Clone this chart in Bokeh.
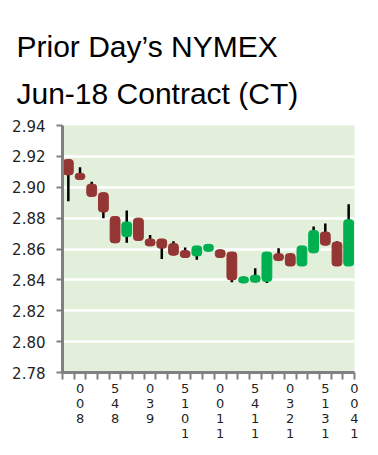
from bokeh.plotting import figure
from bokeh.models import FixedTicker, Title, ColumnDataSource, Range1d
from bokeh.embed import file_html
from bokeh.resources import INLINE

# 15-minute bars, Jun-18 contract
times = ["7:45", "8:00", "8:15", "8:30", "8:45", "9:00", "9:15", "9:30", "9:45",
         "10:00", "10:15", "10:30", "10:45", "11:00", "11:15", "11:30", "11:45",
         "12:00", "12:15", "12:30", "12:45", "13:00", "13:15", "13:30", "13:45"]
opens = [2.918, 2.909, 2.902, 2.8965, 2.881, 2.868, 2.880, 2.8665, 2.8665,
         2.8635, 2.859, 2.8555, 2.8585, 2.8595, 2.858, 2.838, 2.8385, 2.839,
         2.857, 2.857, 2.849, 2.8575, 2.871, 2.8645, 2.849]
highs = [2.918, 2.913, 2.9035, 2.8965, 2.881, 2.885, 2.880, 2.869, 2.8665,
         2.865, 2.861, 2.862, 2.863, 2.8595, 2.858, 2.842, 2.8475, 2.858,
         2.8605, 2.857, 2.862, 2.8745, 2.8765, 2.865, 2.889]
lows = [2.891, 2.905, 2.894, 2.880, 2.864, 2.864, 2.8655, 2.862, 2.8535,
        2.856, 2.8545, 2.853, 2.8585, 2.8545, 2.8385, 2.838, 2.8385, 2.838,
        2.8525, 2.849, 2.849, 2.8575, 2.8625, 2.849, 2.849]
closes = [2.908, 2.905, 2.894, 2.884, 2.864, 2.8775, 2.8655, 2.862, 2.8605,
          2.856, 2.8545, 2.862, 2.863, 2.8545, 2.840, 2.842, 2.843, 2.858,
          2.8525, 2.849, 2.862, 2.872, 2.8625, 2.849, 2.879]
tick_labels = ["8:00", "8:45", "9:30", "10:15", "11:00", "11:45", "12:30", "13:15", "14:00"]
y_ticks = [2.78, 2.80, 2.82, 2.84, 2.86, 2.88, 2.90, 2.92, 2.94]
title_lines = ["Prior Day\u2019s NYMEX", "Jun-18 Contract (CT)"]

UP = "#00B050"
DOWN = "#943634"

n = len(times)
xs = list(range(n))
src = ColumnDataSource(dict(
    x=xs,
    top=[max(o, c) for o, c in zip(opens, closes)],
    bottom=[min(o, c) for o, c in zip(opens, closes)],
    high=highs, low=lows,
    color=[UP if c > o else DOWN for o, c in zip(opens, closes)],
))

p = figure(width=370, height=447, output_backend="svg", toolbar_location=None,
           x_range=Range1d(-0.5, n - 0.5), y_range=Range1d(2.78, 2.94),
           min_border_left=62, min_border_right=16, min_border_top=125,
           min_border_bottom=75)
p.background_fill_color = "#E2EFDA"
p.border_fill_color = "white"
p.outline_line_color = None

p.title = Title(text="\n".join(title_lines), text_font="Liberation Sans",
                text_font_size="30px", text_font_style="normal",
                text_line_height=1.45,
                text_color="#000000", align="left", offset=-46, standoff=30)

p.segment(x0="x", y0="low", x1="x", y1="high", source=src, line_color="black", line_width=2.5)
p.vbar(x="x", top="top", bottom="bottom", width=0.84, source=src,
       fill_color="color", line_color="color", line_width=1, border_radius=3)

# x axis: labels at 45-minute spacing, vertical stacked reversed characters
def minutes(t):
    h, m = t.split(":")
    return int(h) * 60 + int(m)

t0 = minutes(times[0])
tick_pos = []
overrides = {}
for t in tick_labels:
    pos = (minutes(t) - t0) / 15.0
    pos = min(pos, n - 0.5)
    tick_pos.append(pos)
    overrides[pos] = "\n".join(list(t.replace(":", "")[::-1]))

p.xaxis.ticker = FixedTicker(ticks=tick_pos, minor_ticks=[i - 0.5 for i in range(n + 1)])
p.xaxis.major_label_overrides = overrides
p.xaxis.major_tick_line_color = None
p.xaxis.major_tick_out = 7
p.xaxis.minor_tick_line_color = "#808080"
p.xaxis.minor_tick_line_width = 2
p.xaxis.minor_tick_out = 7
p.xaxis.minor_tick_in = 0
p.xaxis.major_label_text_font = "DejaVu Sans"
p.xaxis.major_label_text_font_size = "13px"
p.xaxis.major_label_text_line_height = 1.0
p.xaxis.major_label_text_color = "#1F1F1F"
p.xaxis.major_label_standoff = 1
p.xaxis.axis_line_color = "#808080"
p.xaxis.axis_line_width = 3

p.yaxis.ticker = FixedTicker(ticks=y_ticks)
p.yaxis.major_label_overrides = {v: f"{v:.2f}" for v in y_ticks}
p.yaxis.axis_line_color = "#808080"
p.yaxis.axis_line_width = 3
p.yaxis.major_tick_line_color = "#808080"
p.yaxis.major_tick_line_width = 2
p.yaxis.major_tick_out = 6
p.yaxis.major_tick_in = 0
p.yaxis.minor_tick_line_color = None
p.yaxis.major_label_text_font = "DejaVu Sans"
p.yaxis.major_label_text_font_size = "15px"
p.yaxis.major_label_text_color = "#1F1F1F"
p.yaxis.major_label_standoff = 11

p.xgrid.grid_line_color = None
p.ygrid.grid_line_color = "white"
p.ygrid.grid_line_width = 2.5

open("out.html", "w").write(file_html(p, INLINE))
